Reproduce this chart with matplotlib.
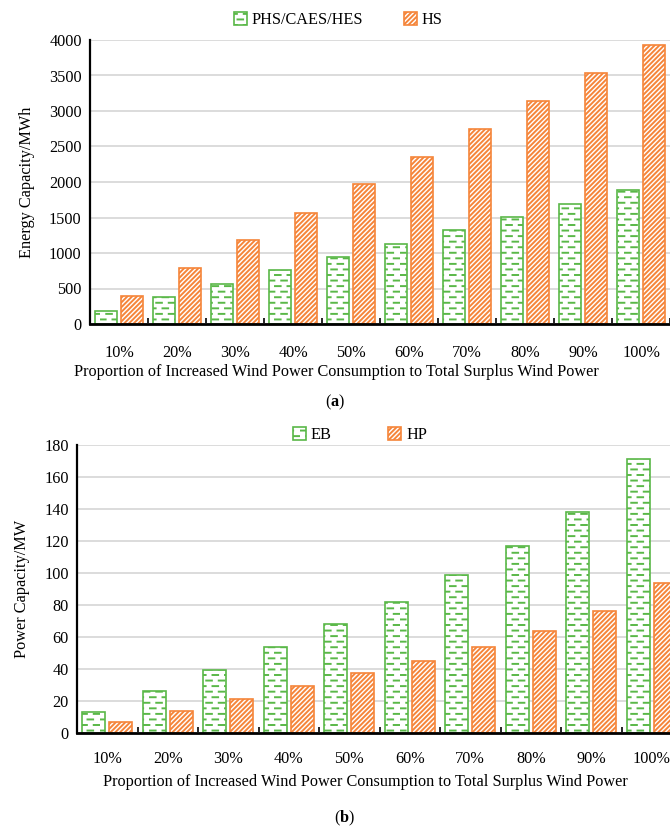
import numpy as np
import matplotlib
matplotlib.use("Agg")
import matplotlib.pyplot as plt
import matplotlib.hatch as mhatch

categories = ["10%", "20%", "30%", "40%", "50%", "60%", "70%", "80%", "90%", "100%"]

# panel (a): energy capacity, MWh
phs_caes_hes = [190, 380, 565, 755, 940, 1130, 1320, 1505, 1695, 1885]
hs = [395, 785, 1180, 1570, 1965, 2355, 2750, 3140, 3535, 3925]

# panel (b): power capacity, MW
eb = [13, 26, 39.5, 54, 68, 82, 98.5, 117, 138, 171]
hp = [7, 14, 21.5, 29.5, 37.5, 45, 54, 64, 76, 94]

xlabel = "Proportion of Increased Wind Power Consumption to Total Surplus Wind Power"

GREEN = "#5AB848"
ORANGE = "#F5853A"
GRID = "#D9D9D9"


class DashHatch(mhatch.HatchPatternBase):
    """Rows of short dashes, every other row shifted by half a period."""

    def __init__(self, hatch, density):
        self.num_rows = int(hatch.count("-") * density)
        self.num_dashes = 8
        self.num_vertices = self.num_rows * self.num_dashes * 2

    def set_vertices_and_codes(self, vertices, codes):
        period = 1.0 / self.num_dashes
        dash = 0.45 * period
        rowstep = 1.0 / self.num_rows
        k = 0
        for r in range(self.num_rows):
            y = rowstep * (r + 0.5)
            shift = 0.0 if r % 2 == 0 else period / 2
            for d in range(self.num_dashes):
                x0 = d * period + shift
                vertices[k] = (x0, y)
                vertices[k + 1] = (x0 + dash, y)
                codes[k] = mhatch.Path.MOVETO
                codes[k + 1] = mhatch.Path.LINETO
                k += 2


mhatch._hatch_types = [DashHatch if t is mhatch.HorizontalHatch else t
                       for t in mhatch._hatch_types]

plt.rcParams["font.family"] = ["Liberation Serif", "DejaVu Serif"]
plt.rcParams["mathtext.fontset"] = "custom"
plt.rcParams["mathtext.rm"] = "Liberation Serif"
plt.rcParams["mathtext.bf"] = "Liberation Serif:bold"
plt.rcParams["hatch.linewidth"] = 1.4
plt.rcParams["font.size"] = 11.7

W, H = 670, 827
fig = plt.figure(figsize=(W / 100, H / 100), dpi=100)


def px_axes(left, top, right, bottom):
    return fig.add_axes([left / W, 1 - bottom / H, (right - left) / W, (bottom - top) / H])


def style_axes(ax, ymax, ystep, xpad):
    ax.set_xlim(-0.5, 9.5)
    ax.set_ylim(0, ymax)
    ax.set_yticks(np.arange(0, ymax + 1, ystep))
    ax.set_xticks(np.arange(len(categories)))
    ax.set_xticklabels(categories)
    ax.set_xticks(np.arange(-0.5, len(categories), 1), minor=True)
    ax.tick_params(axis="x", which="major", length=0, pad=xpad, labelsize=11.7)
    ax.tick_params(axis="x", which="minor", length=4, width=1.2, direction="in")
    ax.tick_params(axis="y", length=0, pad=6, labelsize=11.7)
    ax.yaxis.grid(True, color=GRID, lw=1.3)
    ax.set_axisbelow(True)
    for s in ("top", "right"):
        ax.spines[s].set_visible(False)
    ax.spines["left"].set_linewidth(1.6)
    ax.spines["bottom"].set_linewidth(2.0)


def draw_pair(ax, left_vals, right_vals, left_style, right_style, labels):
    x = np.arange(len(categories))
    w = 0.38
    off = 0.222
    for vals, xs, st, lab in ((left_vals, x - off, left_style, labels[0]),
                              (right_vals, x + off, right_style, labels[1])):
        ax.bar(xs, vals, w, facecolor="white", edgecolor=st[0], hatch=st[1],
               linewidth=1.2, label=lab, zorder=2)


green_style = (GREEN, "---")
orange_style = (ORANGE, "///////")

# panel (a)
ax1 = px_axes(90, 40, 670, 324)
draw_pair(ax1, phs_caes_hes, hs, green_style, orange_style, ("PHS/CAES/HES", "HS"))
style_axes(ax1, 4000, 500, 15)
ax1.set_ylabel("Energy Capacity/MWh", fontsize=11.7, labelpad=10)
ax1.legend(loc="center", bbox_to_anchor=(0.505, 1 - 20 / H), bbox_transform=fig.transFigure,
           ncol=2, frameon=False, handlelength=0.8, handleheight=0.8, handletextpad=0.3,
           columnspacing=2.5, fontsize=11.7)
fig.text(336 / W, 1 - 372 / H, xlabel, ha="center", va="center", fontsize=11.7)
fig.text(335 / W, 1 - 402 / H, r"($\mathbf{a}$)", ha="center", va="center", fontsize=11.7)

# panel (b)
ax2 = px_axes(77, 445, 682, 733)
draw_pair(ax2, eb, hp, green_style, orange_style, ("EB", "HP"))
style_axes(ax2, 180, 20, 13)
ax2.set_ylabel("Power Capacity/MW", fontsize=11.7, labelpad=10)
ax2.legend(loc="center", bbox_to_anchor=(0.537, 1 - 435 / H), bbox_transform=fig.transFigure,
           ncol=2, frameon=False, handlelength=0.8, handleheight=0.8, handletextpad=0.3,
           columnspacing=3.5, fontsize=11.7)
fig.text(365 / W, 1 - 782 / H, xlabel, ha="center", va="center", fontsize=11.7)
fig.text(345 / W, 1 - 818 / H, r"($\mathbf{b}$)", ha="center", va="center", fontsize=11.7)

fig.savefig("out.png", dpi=100)
